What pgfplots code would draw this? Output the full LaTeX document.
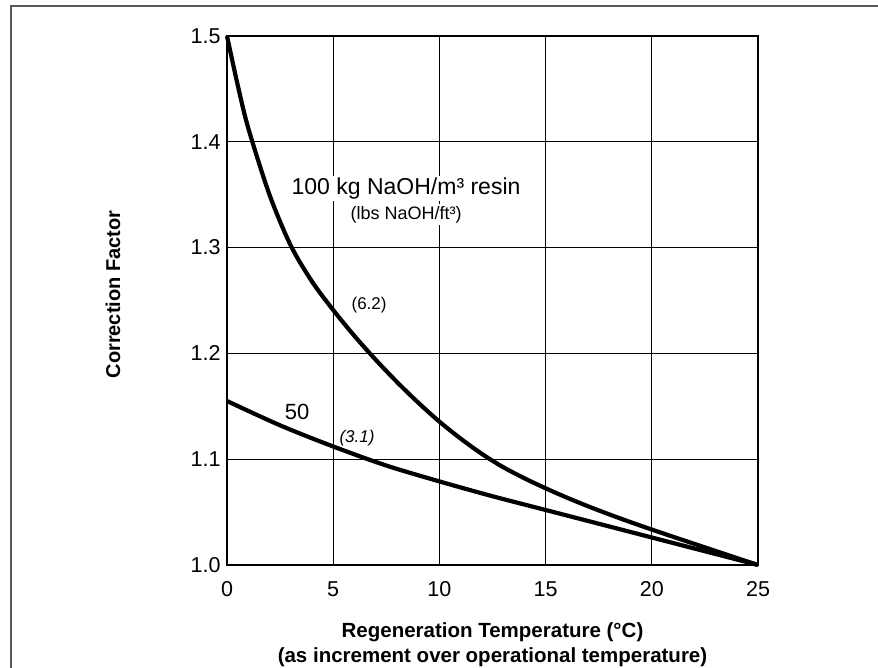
\documentclass[border=0pt]{standalone}
\usepackage{pgfplots}
\pgfplotsset{compat=1.18}
\usepackage{fontspec}
\setmainfont{Liberation Sans}
\begin{document}
\begin{tikzpicture}
\path[use as bounding box, fill=white] (0pt,0pt) rectangle (878pt,668pt);
\draw[gray!70!black, line width=2pt] (11pt,0pt) -- (11pt,662pt) -- (878pt,662pt);
\begin{axis}[
  at={(227pt,103pt)}, anchor=south west,
  scale only axis, width=531pt, height=529pt,
  xmin=0, xmax=25, ymin=1.0, ymax=1.5,
  xtick={0,5,10,15,20,25},
  ytick={1.0,1.1,1.2,1.3,1.4,1.5},
  y tick label style={/pgf/number format/fixed, /pgf/number format/fixed zerofill, /pgf/number format/precision=1},
  /pgf/number format/assume math mode=true,
  tick label style={font=\fontsize{21.5}{24}\selectfont},
  major tick length=0pt,
  xticklabel style={yshift=-13pt},
  yticklabel style={xshift=-3pt},
  grid=major,
  major grid style={black, line width=0.9pt},
  axis line style={line width=2.5pt},
  every axis x label/.style={at={(rel axis cs:0.5,0)}, yshift=-80pt, anchor=center, align=center, font=\fontsize{20.5}{25}\selectfont\bfseries},
  every axis y label/.style={at={(rel axis cs:0,0.5)}, xshift=-114pt, yshift=6pt, rotate=90, anchor=center, font=\fontsize{20}{24}\selectfont\bfseries},
  xlabel={Regeneration Temperature (°C)\\(as increment over operational temperature)},
  ylabel={Correction Factor},
  clip=false,
]
\addplot[black, line width=4.2pt, smooth, tension=0.5] coordinates {
 (0,1.5) (0.5,1.454) (1,1.413) (2,1.350) (3,1.302) (4,1.268) (5,1.241)
 (6,1.2165) (7,1.194) (8,1.173) (9,1.1535) (10,1.1355) (11,1.1195) (12,1.105)
 (13,1.0925) (14,1.082) (15,1.0725) (16,1.0637) (17,1.0555) (18,1.0478) (19,1.0405)
 (20,1.0335) (21,1.0267) (22,1.020) (23,1.0133) (24,1.0066) (25,1.0)};
\addplot[black, line width=4.2pt, smooth, tension=0.5] coordinates {
 (0,1.155) (2.5,1.132) (5,1.112) (7.5,1.094) (10,1.079) (12.5,1.065) (15,1.052)
 (17.5,1.039) (20,1.026) (22.5,1.013) (25,1.0)};
\node[fill=white, inner sep=2pt, font=\fontsize{23}{26}\selectfont] at (axis cs:8.43,1.356) {100 kg NaOH/m³ resin};
\node[fill=white, inner sep=2pt, font=\fontsize{18}{20}\selectfont] at (axis cs:8.43,1.331) {(lbs NaOH/ft³)};
\node[font=\fontsize{17}{20}\selectfont] at (axis cs:6.69,1.246) {(6.2)};
\node[font=\fontsize{22}{26}\selectfont] at (axis cs:3.30,1.145) {50};
\node[font=\fontsize{17}{20}\selectfont\itshape] at (axis cs:6.12,1.120) {(3.1)};
\end{axis}
\end{tikzpicture}
\end{document}
